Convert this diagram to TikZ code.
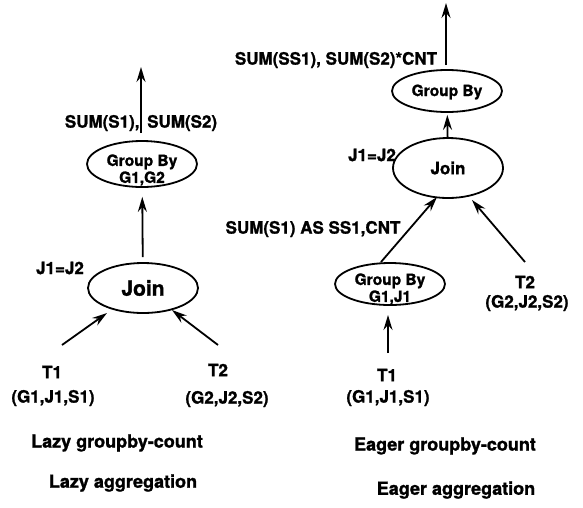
\documentclass[tikz,border=0pt]{standalone}
\usepackage{fontspec}
\setmainfont{TeX Gyre Heros}[BoldFeatures={FakeBold=1.3}]
\usetikzlibrary{shapes.geometric,arrows.meta}
\begin{document}
\begin{tikzpicture}[x=1pt,y=-1pt,
  lbl/.style={font=\bfseries\fontsize{17}{19}\selectfont, inner sep=0},
  captxt/.style={font=\bfseries\fontsize{18}{20}\selectfont, inner sep=0},
  op/.style={draw, ellipse, line width=1.8pt, inner sep=0, minimum width=110pt},
  optext/.style={font=\bfseries\fontsize{15.5}{17}\selectfont, align=center, inner sep=0},
  arr/.style={line width=1.8pt, -{Stealth[length=15pt,width=9pt,inset=5pt]}}]
\useasboundingbox (0,0) rectangle (583,507);

% ---------- left: lazy ----------
\node[op, minimum height=46pt] (lgb) at (142,164) {};
\node[optext] (lgbt) at (142,170) {Group By\\G1,G2};
\node[op, minimum height=50pt, font=\bfseries\fontsize{21}{22}\selectfont] (ljoin) at (143,288) {Join};
\node[lbl] (lsum) at (141,123) {SUM(S1),\hspace{3pt} SUM(S2)};
\node[lbl] (lj) at (60,268) {J1=J2};
\node[lbl] (lt1) at (52,372) {T1};
\node[lbl] (lt1s) at (53,398) {(G1,J1,S1)};
\node[lbl] (lt2) at (218,370) {T2};
\node[lbl] (lt2s) at (227,399) {(G2,J2,S2)};
\node[captxt] (lc1) at (117,443) {Lazy groupby-count};
\node[captxt] (lc2) at (123,483) {Lazy aggregation};

\coordinate (ltail) at (141,133);
\coordinate (ltop) at (141,67);
\coordinate (lt1a) at (62,345);
\coordinate (lt1b) at (107,313);
\coordinate (lt2a) at (218,345);
\coordinate (lt2b) at (172,310);

\draw[arr] (ltail) -- (ltop);
\draw[arr, shorten <=5pt, shorten >=9pt] (ljoin) -- (lgb);
\draw[arr] (lt1a) -- (lt1b);
\draw[arr] (lt2a) -- (lt2b);

% ---------- right: eager ----------
\node[op, minimum height=42pt] (rgb) at (447,91) {};
\node[optext] (rgbt) at (447,92) {Group By};
\node[op, minimum height=60pt, font=\bfseries\fontsize{17}{18}\selectfont] (rjoin) at (448,168) {Join};
\node[op, minimum height=42pt] (rgb2) at (390,284) {};
\node[optext] (rgb2t) at (390,289) {Group By\\G1,J1};
\node[lbl] (rsum) at (336,60) {SUM(SS1), SUM(S2)*CNT};
\node[lbl] (rj) at (372,155) {J1=J2};
\node[lbl] (rss) at (313,229) {SUM(S1) AS SS1,CNT};
\node[lbl] (rt1) at (387,375) {T1};
\node[lbl] (rt1s) at (388,398) {(G1,J1,S1)};
\node[lbl] (rt2) at (525,282) {T2};
\node[lbl] (rt2s) at (527,303) {(G2,J2,S2)};
\node[captxt] (rc1) at (445,446) {Eager groupby-count};
\node[captxt] (rc2) at (456,490) {Eager aggregation};

\coordinate (rtail) at (446,65);
\coordinate (rtop) at (446,3);
\coordinate (rga) at (381,262);
\coordinate (rgbin) at (437,197);
\coordinate (rt2a) at (525,262);
\coordinate (rt2b) at (472,200);
\coordinate (rt1a) at (388,353);
\coordinate (rt1b) at (388,315);

\draw[arr] (rtail) -- (rtop);
\draw[arr, shorten >=2pt] (rjoin) -- (rgb);
\draw[arr] (rga) -- (rgbin);
\draw[arr] (rt2a) -- (rt2b);
\draw[arr] (rt1a) -- (rt1b);
\end{tikzpicture}
\end{document}
